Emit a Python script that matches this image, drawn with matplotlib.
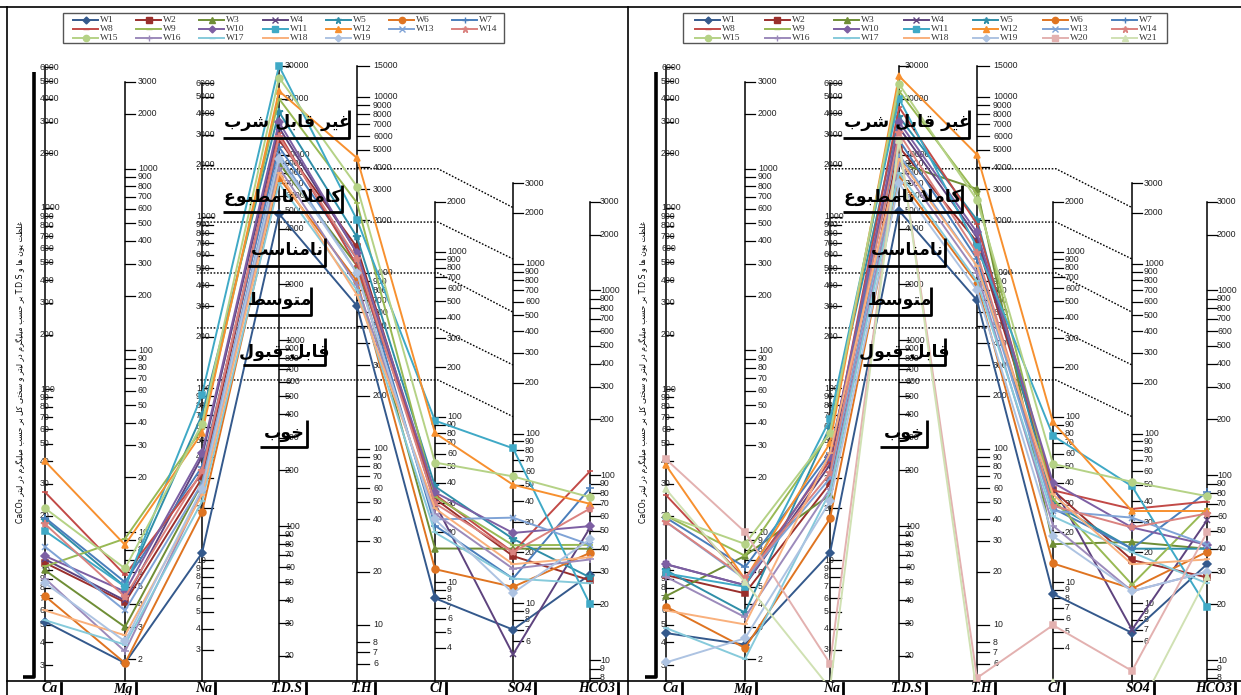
import numpy as np
import matplotlib.pyplot as plt
from matplotlib.patches import Rectangle

params = ['Ca', 'Mg', 'Na', 'T.D.S', 'T.H', 'Cl', 'SO4', 'HCO3']

# left diagram, wells W1..W19
left_ca   = [5.2, 11, 10, 11.5, 19, 7.2, 19.5, 27, 10.5, 12, 16.5, 40, 13.5, 18, 22, 9, 5.3, 6, 8.5]
left_mg   = [1.9, 4.1, 3.0, 4.2, 5.0, 1.9, 5.3, 5.8, 9.2, 4.7, 5.0, 8.5, 3.7, 4.4, 6.3, 2.2, 2.4, 2.7, 2.5]
left_na   = [11, 30, 28, 40, 70, 19, 35, 32, 58, 42, 92, 55, 28, 33, 62, 25, 22, 24, 26]
left_tds  = [4800, 12000, 9000, 14000, 17000, 7500, 11000, 13000, 20000, 15000, 30000, 22000,
             10000, 12500, 26000, 8500, 7000, 8000, 9500]
left_th   = [650, 1400, 1100, 1300, 1600, 900, 1200, 1100, 2500, 1300, 2000, 4500, 1000, 1200,
             3100, 850, 800, 750, 1000]
left_cl   = [8, 32, 16, 30, 38, 12, 22, 34, 33, 35, 95, 80, 24, 30, 53, 26, 20, 28, 24]
left_so4  = [7, 19, 21, 5, 24, 12.5, 14, 20, 22, 26, 82, 50, 32, 20, 56, 16, 14, 17, 11.5]
left_hco3 = [29, 27, 40, 52, 28, 38, 85, 105, 42, 53, 20, 70, 42, 66, 76, 35, 26, 36, 45]

# right diagram, wells W1..W21
right_ca   = [4.5, 9.4, 7.2, 10.8, 10, 6.3, 19.5, 26, 20, 10.8, 9.6, 38, 18.5, 18.5, 20, 9.2, 4.8, 6, 3.1, 41, 28]
right_mg   = [2.4, 4.6, 7.4, 5.1, 3.6, 2.3, 6.4, 5.5, 7.4, 5.1, 5.0, 5.5, 5.5, 5.6, 8.6, 3.4, 2.0, 3.1, 2.6, 10, 5.3]
right_na   = [11, 28, 24, 36, 60, 17.5, 42, 38, 55, 40, 66, 48, 30, 32, 55, 26, 25, 42, 22, 2.5, 1.8]
right_tds  = [5000, 11000, 9000, 14000, 16000, 7500, 12000, 18000, 22000, 15000, 20000, 26500,
              10000, 13000, 24000, 9000, 8000, 9500, 7000, 12000, 12000]
right_th   = [700, 1500, 3000, 1600, 2000, 870, 1200, 1900, 2800, 1700, 1400, 4700, 1100, 1300,
              2600, 1000, 900, 1100, 800, 5, 4]
right_cl   = [8.5, 36, 17, 38, 30, 13, 28, 36, 32, 40, 77, 93, 27, 29, 52, 22, 25, 34, 19, 5.5, 2.5]
right_so4  = [6.7, 18, 23, 7, 21, 12.2, 21, 36, 12.9, 28, 49, 35, 32, 28, 52, 11.8, 20, 17, 11.8, 4, 2]
right_hco3 = [33, 28, 40, 57, 40, 38.5, 81, 72, 66, 42, 19.3, 64, 42, 62, 77, 30, 26, 35, 30, 49, 28]

left_data = [left_ca, left_mg, left_na, left_tds, left_th, left_cl, left_so4, left_hco3]
right_data = [right_ca, right_mg, right_na, right_tds, right_th, right_cl, right_so4, right_hco3]

# scale ticks for each column
ticks = [
    [6000, 5000, 4000, 3000, 2000, 1000, 900, 800, 700, 600, 500, 400, 300, 200, 100, 90, 80, 70, 60, 50, 40, 30, 20, 10, 9, 8, 7, 6, 5, 4, 3],
    [3000, 2000, 1000, 900, 800, 700, 600, 500, 400, 300, 200, 100, 90, 80, 70, 60, 50, 40, 30, 20, 10, 9, 8, 7, 6, 5, 4, 3, 2],
    [6000, 5000, 4000, 3000, 2000, 1000, 900, 800, 700, 600, 500, 400, 300, 200, 100, 90, 80, 70, 60, 50, 40, 30, 20, 10, 9, 8, 7, 6, 5, 4, 3],
    [30000, 20000, 10000, 9000, 8000, 7000, 6000, 5000, 4000, 2000, 1000, 900, 800, 700, 600, 500, 400, 300, 200, 100, 90, 80, 70, 60, 50, 40, 30, 20],
    [15000, 10000, 9000, 8000, 7000, 6000, 5000, 4000, 3000, 2000, 1000, 900, 800, 700, 600, 500, 400, 300, 200, 100, 90, 80, 70, 60, 50, 40, 30, 20, 10, 8, 7, 6],
    [2000, 1000, 900, 800, 700, 600, 500, 400, 300, 200, 100, 90, 80, 70, 60, 50, 40, 30, 20, 10, 9, 8, 7, 6, 5, 4],
    [3000, 2000, 1000, 900, 800, 700, 600, 500, 400, 300, 200, 100, 90, 80, 70, 60, 50, 40, 30, 20, 10, 9, 8, 7, 6],
    [3000, 2000, 1000, 900, 800, 700, 600, 500, 400, 300, 200, 100, 90, 80, 70, 60, 50, 40, 30, 20, 10, 9, 8],
]

# zone boundaries (read on the Na and SO4 columns)
zone_na = [1900, 930, 470, 225, 112]
zone_so4 = [2150, 1070, 520, 254, 126]
zone_names = ['غیر قابل شرب', 'کاملا نامطبوع', 'نامناسب', 'متوسط', 'قابل قبول', 'خوب']

ylabel_a = 'غلظت یون ها و'
ylabel_b = 'بر حسب میلیگرم در لیتر و سختی کل بر حسب میلیگرم در لیتر'

colors = ['#34598C', '#9A2F2C', '#6F8E36', '#5E437E', '#2F8EA8', '#DF7421',
          '#4A7EBB', '#C24A47', '#98B954', '#7D5FA3', '#3FA9C6', '#F7902F',
          '#7FA3D6', '#DA827F', '#B5D286', '#9C8ABB', '#86CADB', '#F9B07C',
          '#ADC3E2', '#E3B1B0', '#D0E1B3']
markers = ['D', 's', '^', 'x', '*', 'o', '+', '_', '_']

# layout of the scales (pixels)
top_val = [6000, 3000, 6000, 30000, 15000, 2000, 3000, 3000]
top_px = [67, 82, 83, 66, 66, 202, 183, 202]
bot_val = [3, 2, 3, 20, 6, 4, 6, 8]
bot_px = [665, 659, 650, 656, 664, 648, 641, 678]
BOTTOM = 681


def ypix(k, v):
    ppd = (bot_px[k] - top_px[k]) / (np.log10(top_val[k]) - np.log10(bot_val[k]))
    return top_px[k] + ppd * (np.log10(top_val[k]) - np.log10(np.asarray(v, dtype=float)))


FORMS = {
    'ا': ('\uFE8D', '\uFE8E', None, None),
    'ب': ('\uFE8F', '\uFE90', '\uFE91', '\uFE92'),
    'ت': ('\uFE95', '\uFE96', '\uFE97', '\uFE98'),
    'ح': ('\uFEA1', '\uFEA2', '\uFEA3', '\uFEA4'),
    'خ': ('\uFEA5', '\uFEA6', '\uFEA7', '\uFEA8'),
    'د': ('\uFEA9', '\uFEAA', None, None),
    'ر': ('\uFEAD', '\uFEAE', None, None),
    'س': ('\uFEB1', '\uFEB2', '\uFEB3', '\uFEB4'),
    'ش': ('\uFEB5', '\uFEB6', '\uFEB7', '\uFEB8'),
    'ط': ('\uFEC1', '\uFEC2', '\uFEC3', '\uFEC4'),
    'ظ': ('\uFEC5', '\uFEC6', '\uFEC7', '\uFEC8'),
    'ع': ('\uFEC9', '\uFECA', '\uFECB', '\uFECC'),
    'غ': ('\uFECD', '\uFECE', '\uFECF', '\uFED0'),
    'ق': ('\uFED5', '\uFED6', '\uFED7', '\uFED8'),
    'ل': ('\uFEDD', '\uFEDE', '\uFEDF', '\uFEE0'),
    'م': ('\uFEE1', '\uFEE2', '\uFEE3', '\uFEE4'),
    'ن': ('\uFEE5', '\uFEE6', '\uFEE7', '\uFEE8'),
    'ه': ('\uFEE9', '\uFEEA', '\uFEEB', '\uFEEC'),
    'و': ('\uFEED', '\uFEEE', None, None),
    'ی': ('\uFBFC', '\uFBFD', '\uFBFE', '\uFBFF'),
    'ک': ('\uFB8E', '\uFB8F', '\uFB90', '\uFB91'),
    'گ': ('\uFB92', '\uFB93', '\uFB94', '\uFB95'),
}


def shape(s):
    # joins persian letters and reverses them for left-to-right drawing
    def fwd(c):
        return c in FORMS and FORMS[c][2] is not None
    out = []
    i = 0
    while i < len(s):
        c = s[i]
        if c not in FORMS:
            out.append(c)
            i += 1
            continue
        p = i > 0 and fwd(s[i - 1])
        if c == 'ل' and i + 1 < len(s) and s[i + 1] == 'ا':
            out.append('\uFEFC' if p else '\uFEFB')
            i += 2
            continue
        q = fwd(c) and i + 1 < len(s) and s[i + 1] in FORMS
        iso, fin, ini, med = FORMS[c]
        out.append(med if (p and q) else fin if p else ini if q else iso)
        i += 1
    return ''.join(reversed(out))


fig = plt.figure(figsize=(12.41, 6.95), dpi=100)
ax = fig.add_axes([0, 0, 1, 1])
ax.set_xlim(0, 1241)
ax.set_ylim(695, 0)
ax.axis('off')

# frame
ax.plot([0, 1241], [7, 7], color='black', lw=1.2)
ax.plot([7, 7], [7, 695], color='black', lw=1.2)
ax.plot([628, 628], [7, 695], color='black', lw=1.2)
ax.plot([7, 1241], [BOTTOM, BOTTOM], color='black', lw=1.2)

label_dx = [-5, 13, -6, 6, 16, 12, 12, 10]
tick_len = [7, 10, 11, 11, 12, 10, 10, 10]
axis_top = [66, 82, 83, 66, 66, 202, 183, 202]
bar_off = [16, 11, 13, 27, 18, 11, 22, 28]

# zone label boxes relative to the T.D.S column: text centre, box left/right, top, bottom
zone_cx = [8, 4, 8, 1, 5, 5]
zone_cy = [122, 197, 250, 300, 352, 433]
zone_x0 = [-56, -56, -31, -31, -36, -19]
zone_x1 = [70, 63, 46, 32, 46, 28]
zone_y0 = [110, 185, 238, 287, 338, 420]
zone_y1 = [138, 212, 266, 315, 365, 447]

panels = [
    dict(left=7, right=628, cols=[45, 125, 202, 279, 357, 435, 513, 590], data=left_data,
         n=19, leg_box=(63, 504), leg_x0=73, leg_dx=63.2, bracket=34, ylab_x=20),
    dict(left=628, right=1241, cols=[666, 745, 830, 899, 977, 1053, 1132, 1207], data=right_data,
         n=21, leg_box=(683, 1167), leg_x0=695, leg_dx=69.5, bracket=656, ylab_x=643),
]

for pn in panels:
    cols = pn['cols']
    clip = Rectangle((pn['left'], 7), pn['right'] - pn['left'], BOTTOM - 7, transform=ax.transData)

    # vertical scales
    for k, x in enumerate(cols):
        ax.plot([x, x], [axis_top[k], BOTTOM], color='black', lw=1.1, zorder=2)
        ys = ypix(k, ticks[k])
        for v, y in zip(ticks[k], ys):
            ax.plot([x, x + tick_len[k]], [y, y], color='black', lw=0.9, zorder=2)
            ax.text(x + label_dx[k], y, str(v), fontsize=6.3, color='#222222',
                    ha='left', va='center', family='Liberation Sans', zorder=3)
        ax.text(x + bar_off[k] - 3, 689, params[k], fontsize=10, fontweight='bold',
                fontstyle='italic', family='Liberation Serif', ha='right', va='center')
        ax.plot([x + bar_off[k], x + bar_off[k]], [683, 695], color='black', lw=2)

    # left bracket and axis title
    b = pn['bracket']
    ax.plot([b, b, b - 11], [72, 677, 677], color='black', lw=2.6, solid_capstyle='butt')
    ylab = 'CaCO₃ ' + shape(ylabel_b) + ' T.D.S ' + shape(ylabel_a)
    ax.text(pn['ylab_x'], 372, ylab, rotation=90, fontsize=5.6, ha='center', va='center',
            family=['DejaVu Sans'])

    # zone boundaries
    xna, xcl, xso4 = cols[2], cols[5], cols[6]
    for vn, vs in zip(zone_na, zone_so4):
        yn = float(ypix(2, vn))
        ys = float(ypix(6, vs))
        ax.plot([xna - 5, xcl + 3, xso4], [yn, yn, ys], color='black', lw=1.0,
                linestyle=(0, (1.2, 1.2)), zorder=2)

    # wells
    for i in range(pn['n']):
        vals = [pn['data'][k][i] for k in range(8)]
        ys = [float(ypix(k, vals[k])) for k in range(8)]
        mk = markers[i % 9]
        ms = 4 if mk == 'D' else 6 if mk in ('*', '+') else 5
        ln, = ax.plot(cols, ys, color=colors[i], lw=1.4, marker=mk, markersize=ms,
                      markeredgewidth=1.1, zorder=4)
        ln.set_clip_path(clip)

    # zone names
    xt = cols[3]
    for j, name in enumerate(zone_names):
        ax.text(xt + zone_cx[j], zone_cy[j], shape(name), fontsize=12.5, fontweight='bold',
                ha='center', va='center', family=['DejaVu Sans'], zorder=6)
        ax.plot([xt + zone_x0[j], xt + zone_x1[j], xt + zone_x1[j]],
                [zone_y1[j], zone_y1[j], zone_y0[j]], color='black', lw=2.0, zorder=6,
                solid_capstyle='butt')

    # legend
    bx0, bx1 = pn['leg_box']
    ax.add_patch(Rectangle((bx0, 13), bx1 - bx0, 30, facecolor='white', edgecolor='#555555', lw=1.0))
    for i in range(pn['n']):
        r, c = divmod(i, 7)
        x0 = pn['leg_x0'] + c * pn['leg_dx']
        y0 = 20 + r * 9
        mk = markers[i % 9]
        ax.plot([x0, x0 + 25], [y0, y0], color=colors[i], lw=1.4)
        ax.plot([x0 + 12.5], [y0], color=colors[i], marker=mk,
                markersize=3.5 if mk == 'D' else 4.5, markeredgewidth=1.0)
        ax.text(x0 + 27, y0, 'W%d' % (i + 1), fontsize=6.8, family='Liberation Serif',
                ha='left', va='center', color='#333333')

fig.savefig('out.png', dpi=100)
